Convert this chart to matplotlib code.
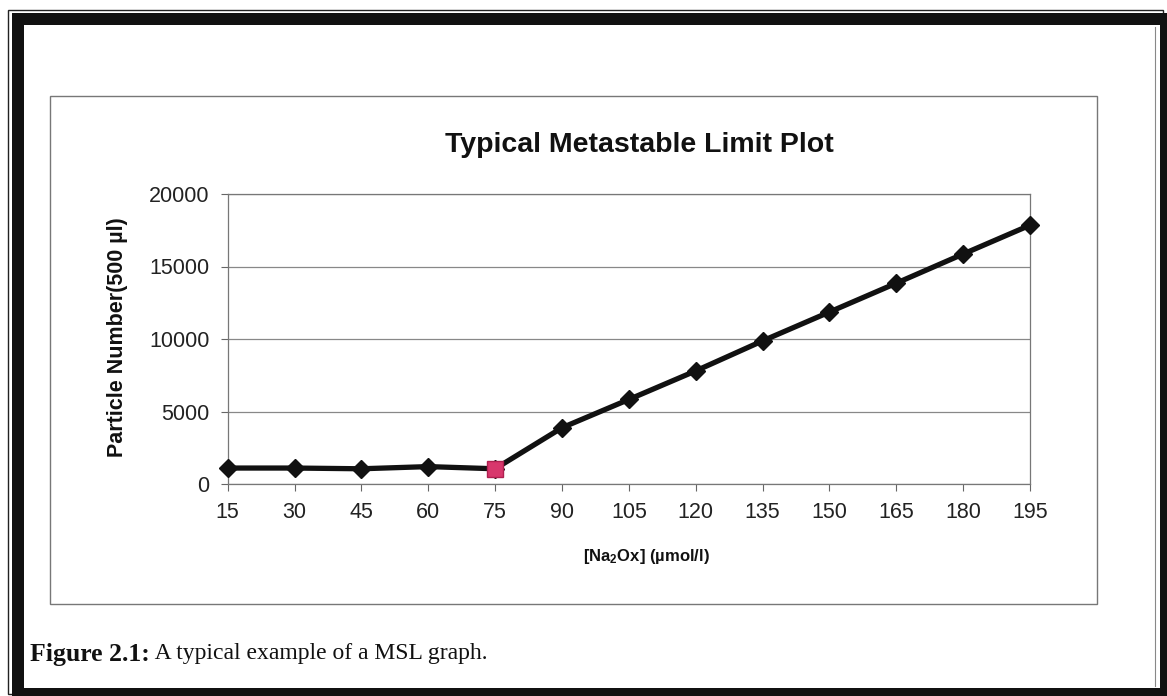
import matplotlib
matplotlib.use("Agg")
import matplotlib.pyplot as plt
from matplotlib.patches import Rectangle

# ---- data ----
concentrations = [15, 30, 45, 60, 75, 90, 105, 120, 135, 150, 165, 180, 195]
particle_numbers = [1100, 1100, 1050, 1200, 1050, 3880, 5830, 7800, 9870,
                    11860, 13850, 15860, 17850]
msl_index = 4  # highlighted point (75)
y_ticks = [0, 5000, 10000, 15000, 20000]

title = "Typical Metastable Limit Plot"
xlabel = "[Na$_2$Ox] (µmol/l)"
ylabel = "Particle Number(500 µl)"
caption_bold = "Figure 2.1:"
caption_rest = " A typical example of a MSL graph."

plt.rcParams['font.family'] = ['Liberation Sans', 'DejaVu Sans']
plt.rcParams['mathtext.fontset'] = 'custom'
plt.rcParams['mathtext.rm'] = 'Liberation Sans:bold'
plt.rcParams['mathtext.it'] = 'Liberation Sans:bold'
plt.rcParams['mathtext.bf'] = 'Liberation Sans:bold'

W, H = 1167, 696
fig = plt.figure(figsize=(W / 100, H / 100), dpi=100)

# background / frame layer in pixel coords
bg = fig.add_axes([0, 0, 1, 1])
bg.set_xlim(0, W)
bg.set_ylim(H, 0)
bg.axis('off')
bg.add_patch(Rectangle((8, 10), 1155, 684, fill=False, ec='#222222', lw=1.0))
bg.add_patch(Rectangle((12, 13), 1155, 12, fc='#111111', ec='none'))
bg.add_patch(Rectangle((12, 13), 12, 683, fc='#111111', ec='none'))
bg.add_patch(Rectangle((1160, 13), 7, 683, fc='#111111', ec='none'))
bg.add_patch(Rectangle((12, 688), 1155, 8, fc='#111111', ec='none'))
bg.plot([1155, 1155], [27, 686], color='#888888', lw=0.8)
# chart area border
bg.add_patch(Rectangle((50, 96), 1047, 508, fill=False, ec='#777777', lw=1.0))
# caption
t1 = bg.text(30, 654, caption_bold, family=['Liberation Serif'], fontweight='bold',
             fontsize=18.5, va='center', ha='left', color='#111111')
fig.canvas.draw()
bb = t1.get_window_extent()
bg.text(bb.x1, H - 654, caption_rest, family=['Liberation Serif'], fontsize=17,
        va='center', ha='left', color='#111111', transform=None)

# main axes
left, right, top, bottom = 227.7, 1030, 194, 484
ax = fig.add_axes([left / W, 1 - bottom / H, (right - left) / W, (bottom - top) / H])
ax.set_xlim(concentrations[0], concentrations[-1])
ax.set_ylim(0, 20000)
ax.set_xticks(concentrations)
ax.set_xticklabels([str(c) for c in concentrations])
ax.set_yticks(y_ticks)
ax.set_yticklabels([str(v) for v in y_ticks])
ax.tick_params(axis='both', direction='out', length=5, width=0.8, color='#666666',
               labelsize=15.5, labelcolor='#222222')
ax.tick_params(axis='x', pad=8)
ax.tick_params(axis='y', pad=8)
for s in ax.spines.values():
    s.set_color('#777777')
    s.set_linewidth(0.9)
ax.grid(axis='y', color='#888888', lw=0.9)
ax.set_axisbelow(True)

ax.plot(concentrations, particle_numbers, color='#111111', lw=3.8, marker='D',
        markersize=9, markerfacecolor='#111111', markeredgecolor='#111111',
        clip_on=False, zorder=3)
ax.plot([concentrations[msl_index]], [particle_numbers[msl_index]], marker='s',
        markersize=11, color='#d8376c', markeredgecolor='#b02050', clip_on=False, zorder=4)

fig.text(639 / W, 1 - 145 / H, title, fontsize=20.5, fontweight='bold',
         ha='center', va='center', color='#111111')
fig.text(646 / W, 1 - 556 / H, xlabel, fontsize=12, fontweight='bold',
         ha='center', va='center', color='#111111')
fig.text(118 / W, 1 - 337 / H, ylabel, fontsize=15.5, fontweight='bold',
         ha='center', va='center', rotation=90, color='#111111')

fig.savefig("out.png", dpi=100)
